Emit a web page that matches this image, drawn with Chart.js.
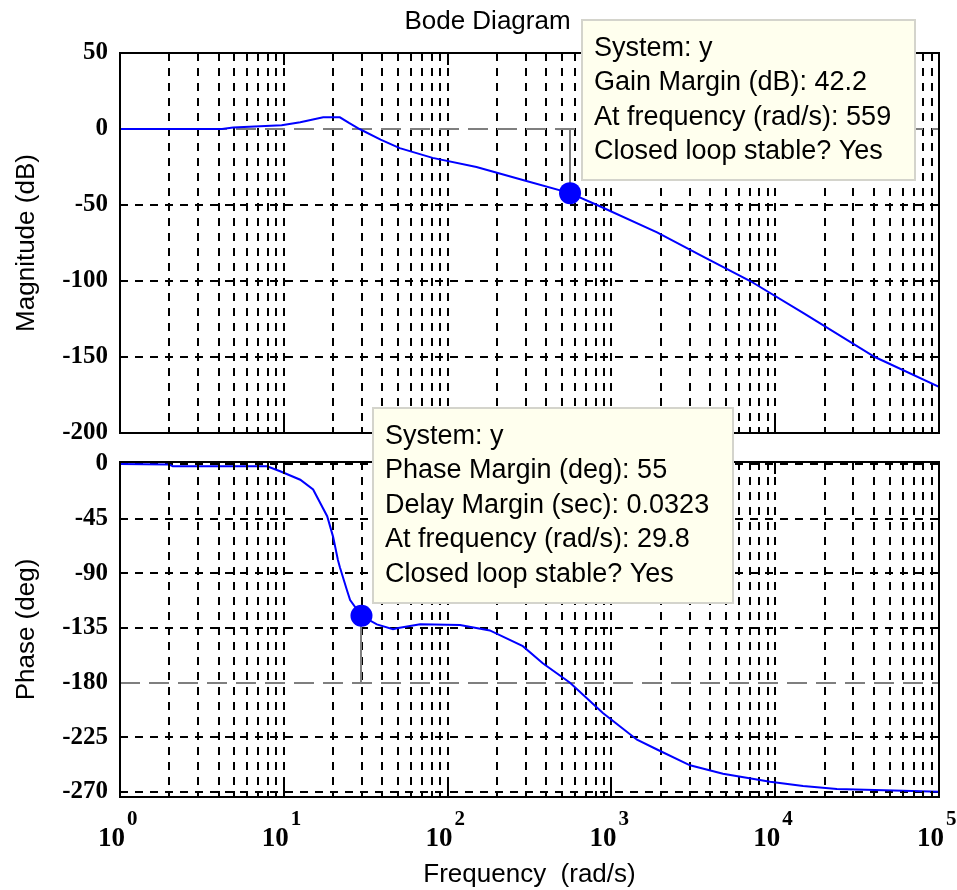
<!DOCTYPE html>
<html>
<head>
<meta charset="utf-8">
<title>Bode Diagram</title>
<script src="https://cdn.jsdelivr.net/npm/chart.js@4.4.1/dist/chart.umd.min.js"></script>
<style>
  html, body { margin: 0; padding: 0; background: #fff; }
  #wrap { position: relative; width: 957px; height: 890px; overflow: hidden; }
  #magChart { position: absolute; left: 0; top: 0; }
  #phaseChart { position: absolute; left: 0; top: 400px; }
</style>
</head>
<body>
<div id="wrap">
  <canvas id="magChart" width="957" height="460"></canvas>
  <canvas id="phaseChart" width="957" height="490"></canvas>
</div>
<script>
'use strict';

// ---------------- values ----------------
const magFreqs = [1, 2, 4.2, 4.9, 9.7, 12.6, 17.4, 22, 25, 29, 39, 51, 81, 150, 288, 559, 817, 1900, 3630, 7040, 14800, 40600, 100000];
const magDb = [0, 0, 0, 1, 2.5, 4.5, 7.7, 7.7, 4, 0, -7, -12.6, -19, -25, -33.5, -42.2, -50, -68, -84, -100, -121, -150, -169.7];

const phaseFreqs = [1, 2, 2.1, 7.9, 9.5, 12.6, 15.1, 18.4, 20, 21.4, 22, 24.3, 25.4, 29.8, 37, 46.4, 50, 68, 119, 181, 288, 381, 559, 887, 1433, 1900, 3020, 4800, 9300, 14800, 23800, 60300, 100000];
const phaseDeg = [0, -0.5, -2, -2, -6, -13, -21, -43, -60, -79, -85, -104, -112, -125, -132, -136, -135, -132, -132.6, -137, -150, -164, -180, -205, -227, -235, -248, -255, -261.5, -265, -267.5, -269, -269.7];

const magTicks = [50, 0, -50, -100, -150, -200];
const phaseTicks = [0, -45, -90, -135, -180, -225, -270];
const freqTickExps = [0, 1, 2, 3, 4, 5];

// margins shown in the two data tips
const systemName = 'y';
const gainMarginDb = 42.2;
const gainMarginFreq = 559;
const phaseMarginDeg = 55;
const delayMarginSec = 0.0323;
const phaseMarginFreq = 29.8;
const loopStable = 'Yes';

// ---------------- styling ----------------
const SANS = '"Liberation Sans", Arial, sans-serif';
const SERIF = '"Liberation Serif", "Times New Roman", serif';
const CURVE_COLOR = '#0000ff';
const REF_COLOR = '#7f7f7f';
const GRID_DASH = [8, 7];

// log grid: 1..9 in every decade, plus the last decade line
const gridFreqs = [];
for (let d = freqTickExps[0]; d < freqTickExps[freqTickExps.length - 1]; d++) {
  for (let k = 1; k <= 9; k++) gridFreqs.push(k * Math.pow(10, d));
}
gridFreqs.push(Math.pow(10, freqTickExps[freqTickExps.length - 1]));

const gainTipLines = [
  `System: ${systemName}`,
  `Gain Margin (dB): ${gainMarginDb}`,
  `At frequency (rad/s): ${gainMarginFreq}`,
  `Closed loop stable? ${loopStable}`
];
const phaseTipLines = [
  `System: ${systemName}`,
  `Phase Margin (deg): ${phaseMarginDeg}`,
  `Delay Margin (sec): ${delayMarginSec}`,
  `At frequency (rad/s): ${phaseMarginFreq}`,
  `Closed loop stable? ${loopStable}`
];

// ---------------- drawing helpers ----------------
function drawDataTip(chart, tip) {
  const {ctx, scales} = chart;
  const px = scales.x.getPixelForValue(tip.x);
  const py = scales.y.getPixelForValue(tip.y);
  ctx.save();
  ctx.font = '27px ' + SANS;
  const lineH = 34.5;
  const textW = Math.max(...tip.lines.map(l => ctx.measureText(l).width));
  const boxW = Math.round(textW + 36);
  const boxH = Math.round(tip.lines.length * lineH + 22);
  const left = Math.round(px + 12);
  const top = Math.round(py - 13 - boxH);
  ctx.fillStyle = '#ffffee';
  ctx.fillRect(left, top, boxW, boxH);
  ctx.strokeStyle = '#d4d4cc';
  ctx.lineWidth = 2;
  ctx.strokeRect(left, top, boxW, boxH);
  ctx.fillStyle = '#000';
  ctx.textBaseline = 'middle';
  ctx.textAlign = 'left';
  tip.lines.forEach((l, i) => ctx.fillText(l, left + 12, top + 11 + lineH * (i + 0.5)));
  ctx.restore();
}

const bodeDecor = {
  id: 'bodeDecor',
  beforeDatasetsDraw(chart, args, opts) {
    const {ctx, chartArea, scales} = chart;
    const yRef = Math.round(scales.y.getPixelForValue(opts.refValue));
    ctx.save();
    ctx.strokeStyle = REF_COLOR;
    ctx.lineWidth = 2;
    ctx.setLineDash([20, 9]);
    ctx.beginPath();
    ctx.moveTo(chartArea.left, yRef);
    ctx.lineTo(chartArea.right, yRef);
    ctx.stroke();
    // stem from the reference line to the marked point
    const tx = Math.round(scales.x.getPixelForValue(opts.tip.x));
    const ty = scales.y.getPixelForValue(opts.tip.y);
    ctx.setLineDash([]);
    ctx.beginPath();
    ctx.moveTo(tx, yRef);
    ctx.lineTo(tx, ty);
    ctx.stroke();
    ctx.restore();
  },
  afterDatasetsDraw(chart) {
    const {ctx, chartArea, scales} = chart;
    ctx.save();
    ctx.strokeStyle = '#000';
    ctx.lineWidth = 2;
    ctx.strokeRect(chartArea.left, chartArea.top, chartArea.right - chartArea.left, chartArea.bottom - chartArea.top);
    // inside tick marks on the frequency axis
    for (const f of gridFreqs) {
      const x = Math.round(scales.x.getPixelForValue(f));
      const isDecade = Math.abs(Math.log10(f) - Math.round(Math.log10(f))) < 1e-9;
      const len = isDecade ? 12 : 6;
      ctx.beginPath();
      ctx.moveTo(x, chartArea.top);
      ctx.lineTo(x, chartArea.top + len);
      ctx.moveTo(x, chartArea.bottom);
      ctx.lineTo(x, chartArea.bottom - len);
      ctx.stroke();
    }
    ctx.restore();
  },
  afterDraw(chart, args, opts) {
    const {ctx, chartArea, scales} = chart;
    drawDataTip(chart, opts.tip);
    ctx.save();
    ctx.fillStyle = '#000';
    if (opts.title) {
      ctx.font = '26px ' + SANS;
      ctx.textAlign = 'center';
      ctx.textBaseline = 'middle';
      ctx.fillText(opts.title, chart.width / 2 + 9, 22);
    }
    if (opts.freqLabels) {
      for (const e of freqTickExps) {
        const x = scales.x.getPixelForValue(Math.pow(10, e));
        ctx.textBaseline = 'alphabetic';
        ctx.font = 'bold 27px ' + SERIF;
        ctx.textAlign = 'right';
        ctx.fillText('10', x + 5, chartArea.bottom + 49);
        ctx.font = 'bold 21px ' + SERIF;
        ctx.textAlign = 'left';
        ctx.fillText(String(e), x + 7, chartArea.bottom + 28);
      }
    }
    ctx.restore();
  }
};

function freqAxis(height, showTitle) {
  return {
    type: 'logarithmic',
    min: gridFreqs[0],
    max: gridFreqs[gridFreqs.length - 1],
    bounds: 'data',
    afterBuildTicks: s => { s.ticks = gridFreqs.map(v => ({value: v})); },
    afterFit: s => { s.height = height; },
    grid: { color: '#000', lineWidth: 2, drawTicks: false },
    border: { display: false, dash: GRID_DASH },
    ticks: { display: false },
    title: {
      display: showTitle,
      text: 'Frequency  (rad/s)',
      color: '#000',
      padding: { top: 0, bottom: 0 },
      font: { family: SANS, size: 26 }
    }
  };
}

function valueAxis(title, ticks, min, max, refValue) {
  return {
    type: 'linear',
    position: 'left',
    min: min,
    max: max,
    bounds: 'data',
    afterBuildTicks: s => { s.ticks = ticks.slice().sort((a, b) => a - b).map(v => ({value: v})); },
    afterFit: s => { s.width = 120; },
    grid: {
      // the gray reference line replaces the grid line at its value
      color: c => (c.tick && c.tick.value === refValue ? 'rgba(0,0,0,0)' : '#000'),
      lineWidth: 2,
      drawTicks: false
    },
    border: { display: false, dash: GRID_DASH },
    ticks: {
      color: '#000',
      padding: 12,
      autoSkip: false,
      font: { family: SERIF, size: 25, weight: 'bold' },
      callback: v => String(v)
    },
    title: {
      display: true,
      text: title,
      color: '#000',
      padding: { top: 11, bottom: 0 },
      font: { family: SANS, size: 26 }
    }
  };
}

function toPoints(xs, ys) {
  return xs.map((x, i) => ({x: x, y: ys[i]}));
}

function curveDataset(points) {
  return {
    data: points,
    borderColor: CURVE_COLOR,
    borderWidth: 2,
    pointRadius: 0,
    tension: 0,
    fill: false
  };
}

function markerDataset(point) {
  return {
    data: [point],
    showLine: false,
    pointRadius: 11,
    pointBackgroundColor: CURVE_COLOR,
    pointBorderWidth: 0,
    pointStyle: 'circle'
  };
}

const gainTip = { x: gainMarginFreq, y: -gainMarginDb, lines: gainTipLines };
const phaseTip = { x: phaseMarginFreq, y: -180 + phaseMarginDeg, lines: phaseTipLines };

new Chart(document.getElementById('magChart'), {
  type: 'line',
  data: {
    datasets: [
      markerDataset({x: gainTip.x, y: gainTip.y}),
      curveDataset(toPoints(magFreqs, magDb))
    ]
  },
  options: {
    responsive: false,
    animation: false,
    layout: { padding: { top: 53, left: 0, right: 18, bottom: 27 } },
    scales: {
      x: freqAxis(0, false),
      y: valueAxis('Magnitude (dB)', magTicks, -200, 50, 0)
    },
    plugins: {
      legend: { display: false },
      tooltip: { enabled: false },
      bodeDecor: { refValue: 0, tip: gainTip, title: 'Bode Diagram' }
    }
  },
  plugins: [bodeDecor]
});

new Chart(document.getElementById('phaseChart'), {
  type: 'line',
  data: {
    datasets: [
      markerDataset({x: phaseTip.x, y: phaseTip.y}),
      curveDataset(toPoints(phaseFreqs, phaseDeg))
    ]
  },
  options: {
    responsive: false,
    animation: false,
    layout: { padding: { top: 62, left: 0, right: 18, bottom: 0 } },
    scales: {
      x: freqAxis(93, true),
      y: valueAxis('Phase (deg)', phaseTicks, -274.1, 1.6, -180)
    },
    plugins: {
      legend: { display: false },
      tooltip: { enabled: false },
      bodeDecor: { refValue: -180, tip: phaseTip, freqLabels: true }
    }
  },
  plugins: [bodeDecor]
});
</script>
</body>
</html>
